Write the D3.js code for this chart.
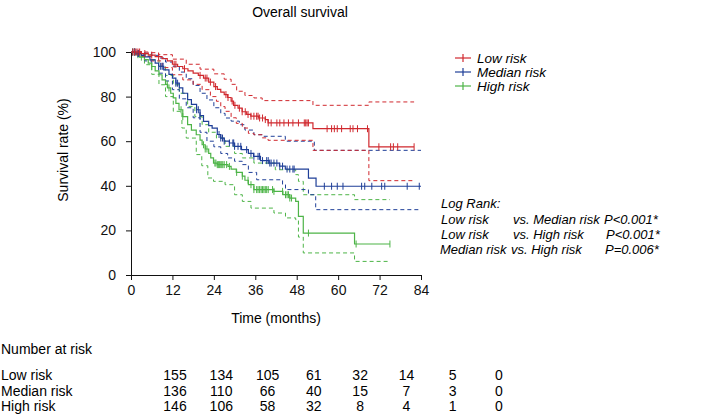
<!DOCTYPE html>
<html><head><meta charset="utf-8">
<script src="https://cdn.jsdelivr.net/npm/d3@7"></script>
<style>
html,body{margin:0;padding:0;background:#fff;}
svg{display:block;font-family:"Liberation Sans",Arial,Helvetica,sans-serif;}
</style></head>
<body><svg id="c" width="721" height="416"></svg>
<script>
// ---------- data ----------
const groups = ["Low risk", "Median risk", "High risk"];
const groupColors = ["#d0282e", "#1f3f98", "#4db447"];

const lowKM = [[0,100],[3,99.3],[5,98.6],[7,97.9],[9,97],[10.5,96],[12,94.5],[13.5,93.5],[15,92.5],[16.5,91.5],[18,90.5],[19.5,89.5],[21,88.3],[22.5,86.5],[24,84.5],[25,83.2],[26,82],[27,80.9],[28,79.6],[29,78],[29.7,76.1],[31,74.8],[32.2,73.2],[33.5,72],[34.7,71.2],[37,70.4],[38.9,69.7],[39.7,68.2],[52.7,65.6],[68.9,57.5],[82,57.5]];
const lowUpper = [[0,100],[5,99.7],[8,98.8],[12,96.8],[16,94.5],[20,92.3],[24,90.2],[27,87.8],[29,85.5],[30.6,82.4],[33,80.5],[35.6,79.4],[38,78.2],[52.7,76.1],[68.9,77.6],[82,77.6]];
const lowLower = [[0,100],[3,98],[6,96],[9,93],[12,89.8],[15,87.5],[18,85.5],[20.6,83.1],[23,80],[24.75,77.9],[26,75.5],[27.25,73.4],[29,70.5],[30.5,68],[32.25,65.9],[34,63.5],[35.6,62.9],[38,61.5],[39.7,60.4],[52.7,55.9],[68.9,42.3],[82,42.3]];
const lowCensor = [0.5,1,1.5,2,2.5,4,6,8,12.5,13,15.5,20,21.5,22,23,24.5,27.5,28.1,29.3,30.1,31.4,32.2,33.1,33.9,34.75,35.6,36.4,36.8,37.25,38.1,38.9,39.75,40.6,42.25,43.1,44.3,45.6,46.9,48.5,50.2,50.6,51,51.4,56.8,58.1,58.9,59.75,61,63.5,64.3,65.6,68.5,71.8,75.2,76,77.25,82];

const medKM = [[0,100],[1.5,99.3],[3,98.5],[4,97.8],[5.5,96.5],[7,95],[8,93.6],[9.5,92],[11,90],[12,88.3],[13,86],[14,83.9],[15,81.5],[16.4,78.6],[17.5,76.5],[19,74.1],[20,71.5],[21,68.9],[22.5,67],[23.5,65.9],[25,63],[26,61.4],[27,60],[28.5,59.2],[30,57.7],[32,56.2],[34,54.5],[35.5,53.2],[37.5,51.3],[40,50.2],[43,48.8],[44.7,47.5],[51.4,43.4],[53.6,39.8],[84,39.8]];
const medUpper = [[0,100],[4,99.5],[6,98.5],[8,97.3],[10,95.5],[12,93.6],[14,91],[16,88],[18,85],[20,81.5],[22,78.5],[24,75],[26,72.5],[27.25,70.4],[29,69],[31.4,67.4],[33,65],[35.6,62.9],[38,62.2],[44.7,60],[53.1,55.9],[84,55.9]];
const medLower = [[0,100],[2,99],[4,96],[6,93.5],[8,90.5],[10,87],[12,83.1],[14,79],[16,75],[18,70.5],[20,64],[22,60],[24,57.5],[26,54.5],[28,52.5],[30,51],[32.25,49.5],[34,46],[36.4,42.7],[43.9,40.5],[44.75,38.3],[51.4,36],[53.5,29.3],[84,29.3]];
const medCensor = [0.5,1,1.2,2,2.2,8.5,9,9.3,13,13.5,19,19.5,20,25.5,26,26.5,27,28.5,29.5,29.75,30,31,31.8,33.5,34.75,35.6,36.8,37.25,38.1,39.3,39.75,40.2,40.6,41.4,42.25,43.1,43.9,45.2,46,46.9,47.25,56,58.1,59.75,61.4,66.8,67.7,69.75,72.6,73.5,80,83.5];

const highKM = [[0,100],[1.4,98.8],[2.5,97.7],[3.9,96.6],[5,95],[6,93.5],[7,91.5],[8.1,89.8],[9,87.5],[10,85.5],[10.6,83.9],[11.5,81.5],[12.25,79.4],[13,77],[13.9,74.1],[15,71],[16.4,67.4],[17.5,65],[18.9,62.9],[20,60.5],[20.6,58.4],[21.5,56.5],[22.5,54.5],[23.1,52.5],[23.9,50.2],[25,49.5],[28.1,48.7],[29,47.5],[30.5,46],[32.25,44.3],[33,42.5],[34,40.5],[35.6,38.3],[41.4,37.5],[44,36],[46,34.5],[47.7,33],[48.5,26.3],[49.9,18.8],[64.75,13.9],[75,13.9]];
const highUpper = [[0,100],[2,100],[3.9,98.8],[6,96.5],[8.1,93.6],[10,89.5],[12.25,85.3],[14,81.5],[16.4,75.6],[18.5,71],[20.6,67.4],[22.5,64],[24.75,61.4],[27.25,57.7],[30,54.5],[32.25,52.5],[35.6,50.2],[41.8,47.2],[47.7,45],[48.5,42],[49.9,36],[64.75,33.8],[75,33.8]];
const highLower = [[0,100],[2,98],[3.9,94.3],[6,90],[8.1,85.3],[10,80],[12.25,73.4],[14.75,65.9],[16,61.4],[18.9,54],[20.5,49],[22.25,43.5],[23.9,42],[27.25,40.5],[30,36],[32.25,33],[34.75,30],[41.4,27.8],[44.75,25.6],[47.7,24.8],[48.5,17],[49.9,9.9],[64.75,6.1],[75,6.1]];
const highCensor = [0.5,1,2,3,6,10.5,11,14.5,15,21,21.5,22,24.3,24.6,25,25.3,25.6,26,26.3,26.6,27,27.7,28.5,30.6,32.25,33.9,34.75,35.6,36.4,36.8,37.25,37.7,38.1,38.5,38.9,39.3,39.75,41,41.4,43.9,44.75,45.2,45.6,46,46.5,51.4,65.2,75];

const xTicks = [0,12,24,36,48,60,72,84];
const yTicks = [0,20,40,60,80,100];

const logRankTitle = "Log Rank:";
const logRankA = ["Low risk", "Low risk", "Median risk"];
const logRankB = ["vs. Median risk", "vs. High risk", "vs. High risk"];
const logRankP = ["P<0.001*", "P<0.001*", "P=0.006*"];

const riskTimes = [0,12,24,36,48,60,72,84];
const riskLow = [155,134,105,61,32,14,5,0];
const riskMed = [136,110,66,40,15,7,3,0];
const riskHigh = [146,106,58,32,8,4,1,0];

// ---------- drawing ----------
const svg = d3.select("#c");
const x = d3.scaleLinear().domain([0,84]).range([131,421]);
const y = d3.scaleLinear().domain([0,100]).range([275,52]);
const xTable = d3.scaleLinear().domain([0,84]).range([175,499]);

svg.append("text").attr("x",300).attr("y",17).attr("text-anchor","middle")
  .attr("font-size",14).text("Overall survival");

const gx = svg.append("g").attr("transform","translate(0,275)")
  .call(d3.axisBottom(x).tickValues(xTicks).tickSize(5).tickSizeOuter(0).tickPadding(5));
const gy = svg.append("g").attr("transform","translate(131,0)")
  .call(d3.axisLeft(y).tickValues(yTicks).tickSize(5).tickSizeOuter(0).tickPadding(10));
[gx,gy].forEach(g=>{
  g.selectAll("text").attr("font-size",14).attr("font-family",'"Liberation Sans",Arial,sans-serif').attr("fill","#111");
  g.selectAll("path,line").attr("stroke","#111");
});

svg.append("text").attr("transform","translate(68,150) rotate(-90)").attr("text-anchor","middle")
  .attr("font-size",14).text("Survival rate (%)");
svg.append("text").attr("x",276).attr("y",323).attr("text-anchor","middle")
  .attr("font-size",14).text("Time (months)");

const line = d3.line().x(d=>x(d[0])).y(d=>y(d[1])).curve(d3.curveStepAfter);
const series = [
  {km:lowKM, up:lowUpper, lo:lowLower, cens:lowCensor},
  {km:medKM, up:medUpper, lo:medLower, cens:medCensor},
  {km:highKM, up:highUpper, lo:highLower, cens:highCensor}
];
function survAt(km,t){ let v=km[0][1]; for(const p of km){ if(p[0]<=t) v=p[1]; else break; } return v; }

[2,1,0].forEach(i=>{
  const s=series[i], c=groupColors[i];
  [s.up,s.lo].forEach(d=>{
    svg.append("path").attr("d",line(d)).attr("fill","none").attr("stroke",c)
      .attr("stroke-width",1).attr("stroke-dasharray","4,3");
  });
});
[2,1,0].forEach(i=>{
  const s=series[i], c=groupColors[i];
  svg.append("path").attr("d",line(s.km)).attr("fill","none").attr("stroke",c).attr("stroke-width",1.2);
  svg.append("g").selectAll("line").data(s.cens).join("line")
    .attr("x1",t=>x(t)).attr("x2",t=>x(t))
    .attr("y1",t=>y(survAt(s.km,t))-3.5).attr("y2",t=>y(survAt(s.km,t))+3.5)
    .attr("stroke",c).attr("stroke-width",1);
});

// legend
const lg = svg.append("g");
groups.forEach((g,i)=>{
  const yy = 58 + i*14;
  lg.append("line").attr("x1",455).attr("x2",471).attr("y1",yy).attr("y2",yy).attr("stroke",groupColors[i]).attr("stroke-width",1.2);
  lg.append("line").attr("x1",463).attr("x2",463).attr("y1",yy-4).attr("y2",yy+4).attr("stroke",groupColors[i]).attr("stroke-width",1.2);
  lg.append("text").attr("x",477).attr("y",yy+5).attr("font-size",13.5).attr("font-style","italic").text(g);
});

// log rank
const lr = svg.append("g").attr("font-size",13).attr("font-style","italic");
lr.append("text").attr("x",441).attr("y",208).text(logRankTitle);
logRankA.forEach((t,i)=>{
  const yy = 224 + i*15;
  lr.append("text").attr("x",[441,441,440][i]).attr("y",yy).text(t);
  lr.append("text").attr("x",[513,513,511][i]).attr("y",yy).text(logRankB[i]);
  lr.append("text").attr("x",[604,606,605][i]).attr("y",yy).text(logRankP[i]);
});

// number at risk
const rt = svg.append("g").attr("font-size",14);
rt.append("text").attr("x",1).attr("y",354).text("Number at risk");
[riskLow,riskMed,riskHigh].forEach((arr,i)=>{
  const yy = 380 + i*15.5;
  rt.append("text").attr("x",1).attr("y",yy).text(groups[i]);
  arr.forEach((v,j)=>{
    rt.append("text").attr("x",xTable(riskTimes[j])).attr("y",yy).attr("text-anchor","middle").text(v);
  });
});
</script></body></html>
